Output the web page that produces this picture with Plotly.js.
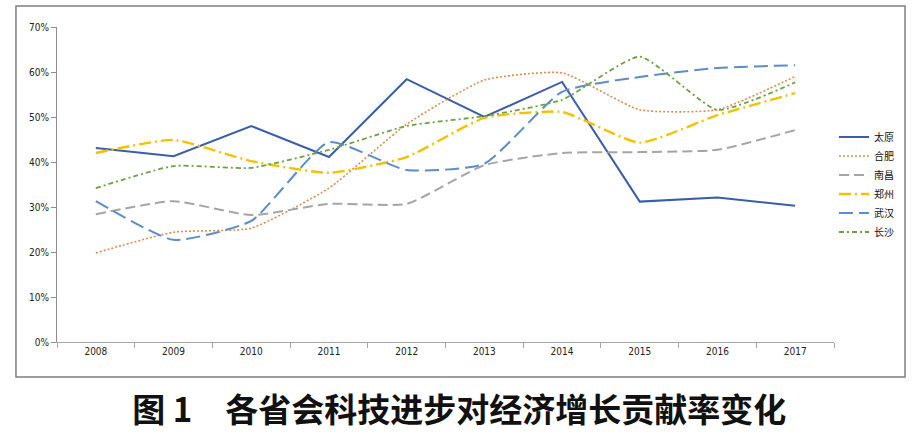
<!DOCTYPE html>
<html>
<head>
<meta charset="utf-8">
<script src="https://cdn.plot.ly/plotly-3.0.1.min.js"></script>
<style>html,body{margin:0;padding:0;background:#fff;}#chart{width:924px;height:433px;}</style>
</head>
<body>
<div id="chart"></div>
<script>
var years = ['2008','2009','2010','2011','2012','2013','2014','2015','2016','2017'];
var seriesNames = ['太原','合肥','南昌','郑州','武汉','长沙'];
var taiyuan   = [0.431,0.413,0.480,0.411,0.584,0.500,0.578,0.312,0.321,0.303];
var hefei     = [0.198,0.244,0.253,0.342,0.484,0.582,0.598,0.516,0.516,0.590];
var nanchang  = [0.284,0.313,0.282,0.307,0.307,0.393,0.420,0.422,0.427,0.471];
var zhengzhou = [0.420,0.449,0.402,0.376,0.411,0.498,0.511,0.443,0.504,0.553];
var wuhan     = [0.313,0.227,0.269,0.444,0.382,0.396,0.556,0.589,0.609,0.615];
var changsha  = [0.342,0.391,0.387,0.427,0.480,0.502,0.538,0.634,0.516,0.577];
var yTickVals = [0,0.1,0.2,0.3,0.4,0.5,0.6,0.7];
var yTickText = ['0%','10%','20%','30%','40%','50%','60%','70%'];
var chartTitle = '图 1　各省会科技进步对经济增长贡献率变化';

var values = [taiyuan, hefei, nanchang, zhengzhou, wuhan, changsha];
var styles = [
  {color:'#3a5ea8', width:2, dash:'solid', shape:'linear'},
  {color:'#e08b4f', width:1.6, dash:'2px,2px', shape:'spline'},
  {color:'#a5a5a5', width:2, dash:'10px,5px', shape:'spline'},
  {color:'#f2c200', width:2.4, dash:'12px,4px,2px,4px', shape:'spline'},
  {color:'#5b8ec8', width:2, dash:'14px,6px', shape:'spline'},
  {color:'#6aa344', width:1.8, dash:'5px,3px,2px,3px', shape:'spline'}
];
var traces = seriesNames.map(function(n,i){
  return {x:years, y:values[i], name:n, type:'scatter', mode:'lines',
    line:{color:styles[i].color, width:styles[i].width, dash:styles[i].dash, shape:styles[i].shape, smoothing:0.5}};
});

var layout = {
  width:924, height:433,
  margin:{l:57, r:90, t:27, b:91},
  paper_bgcolor:'#fff', plot_bgcolor:'#fff',
  font:{family:'"Liberation Sans", Arial, sans-serif', size:10, color:'#222'},
  showlegend:true,
  legend:{x:1.0, xanchor:'left', y:0.5, yanchor:'middle', font:{family:'"Noto Sans CJK SC", sans-serif', size:10, color:'#111'}, tracegroupgap:0, itemwidth:30, bgcolor:'rgba(0,0,0,0)'},
  title:{text:chartTitle, x:0.497, xanchor:'center', y:0.053, yanchor:'middle', xref:'container', yref:'container',
    font:{family:'"Noto Sans CJK SC", sans-serif', size:33, color:'#111', weight:700}},
  xaxis:{type:'category', range:[-0.5,9.5], showgrid:false, zeroline:false, showline:true, linecolor:'#a6a6a6', linewidth:1,
    ticks:'outside', tickson:'boundaries', ticklen:5, tickcolor:'#a6a6a6', tickfont:{size:10, family:'"DejaVu Sans Condensed", sans-serif', color:'#222'}, fixedrange:true},
  yaxis:{range:[0,0.7], tickvals:yTickVals, ticktext:yTickText, showgrid:false, zeroline:false, showline:true, linecolor:'#8c8c8c', linewidth:1,
    ticks:'outside', ticklen:5, tickcolor:'#8c8c8c', tickfont:{size:10, family:'"DejaVu Sans Condensed", sans-serif', color:'#222'}, fixedrange:true},
  shapes:[{type:'rect', xref:'paper', yref:'paper', x0:-0.0528, x1:1.0914, y0:-0.111, y1:1.0667, line:{color:'#7f7f7f', width:1.5}, fillcolor:'rgba(0,0,0,0)'}]
};
Plotly.newPlot('chart', traces, layout, {displayModeBar:false, staticPlot:true});
</script>
</body>
</html>
